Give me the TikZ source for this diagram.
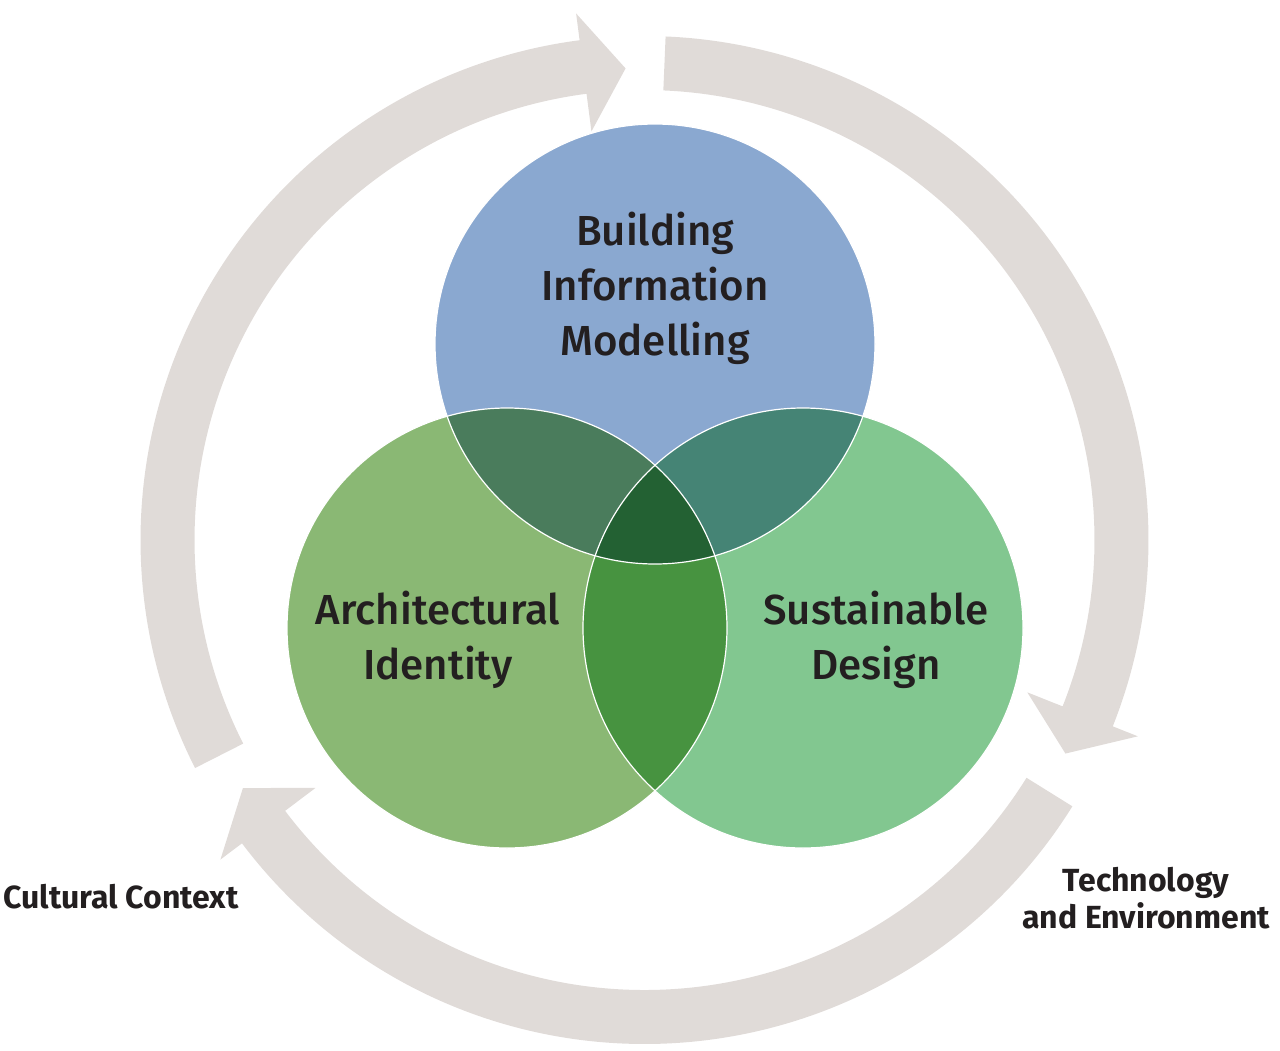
\documentclass[tikz,border=0pt]{standalone}
\usepackage{fontspec}
\setmainfont{Fira Sans}
\newfontfamily\lblfont{Fira Sans Medium}
\usetikzlibrary{calc}
\definecolor{ringc}{HTML}{E0DBD8}
\definecolor{bimc}{HTML}{8AA8D0}
\definecolor{archc}{HTML}{8AB874}
\definecolor{sustc}{HTML}{82C790}
\definecolor{bimarch}{HTML}{4A7C5C}
\definecolor{bimsust}{HTML}{458475}
\definecolor{archsust}{HTML}{479340}
\definecolor{allc}{HTML}{236133}
\definecolor{txtc}{HTML}{231F20}
\tikzset{
  mainlbl/.style={align=center, text=txtc, inner sep=0pt, font=\lblfont\fontsize{21}{27.5}\selectfont},
  outerlbl/.style={align=center, text=txtc, inner sep=0pt, font=\bfseries\fontsize{16}{18.5}\selectfont},
  outline/.style={draw=white, line width=0.6pt}
}
\newcommand\RingArrow[3]{%
  \fill[ringc] ($(C)+(#1:504)$) arc[start angle=#1, end angle=#2, radius=504]
    -- ($(C)+(#2:531)$) -- ($(C)+(#3:472)$) -- ($(C)+(#2:412)$)
    -- ($(C)+(#2:450)$) arc[start angle=#2, end angle=#1, radius=450] -- cycle;}
\begin{document}
\begin{tikzpicture}[x=0.5pt,y=-0.5pt]
\useasboundingbox (0,0) rectangle (1280,1050);
\coordinate (C) at (644.5,540);
\coordinate (A) at (507,628);
\coordinate (B) at (655,344);
\coordinate (S) at (803,628);
% ring arrows
\RingArrow{153.1}{262.6}{267.7}
\RingArrow{272.4}{381.7}{386.9}
\RingArrow{31.9}{143}{148.3}
% circles
\fill[bimc] (B) circle[radius=220];
\fill[archc] (A) circle[radius=220];
\fill[sustc] (S) circle[radius=220];
\begin{scope}
  \clip (B) circle[radius=220];
  \fill[bimarch] (A) circle[radius=220];
  \fill[bimsust] (S) circle[radius=220];
\end{scope}
\begin{scope}
  \clip (A) circle[radius=220];
  \fill[archsust] (S) circle[radius=220];
\end{scope}
\begin{scope}
  \clip (A) circle[radius=220];
  \clip (B) circle[radius=220];
  \fill[allc] (S) circle[radius=220];
\end{scope}
\draw[outline] (B) circle[radius=220];
\draw[outline] (A) circle[radius=220];
\draw[outline] (S) circle[radius=220];
% labels
\node[mainlbl] (bim) at (655,288) {Building\\Information\\Modelling};
\node[mainlbl] (arch) at (438,640) {Architectural\\Identity};
\node[mainlbl] (sust) at (876,640) {Sustainable\\Design};
\node[outerlbl] (cult) at (121,897) {Cultural Context};
\node[outerlbl] (tech) at (1146,898) {Technology\\and Environment};
\end{tikzpicture}
\end{document}
